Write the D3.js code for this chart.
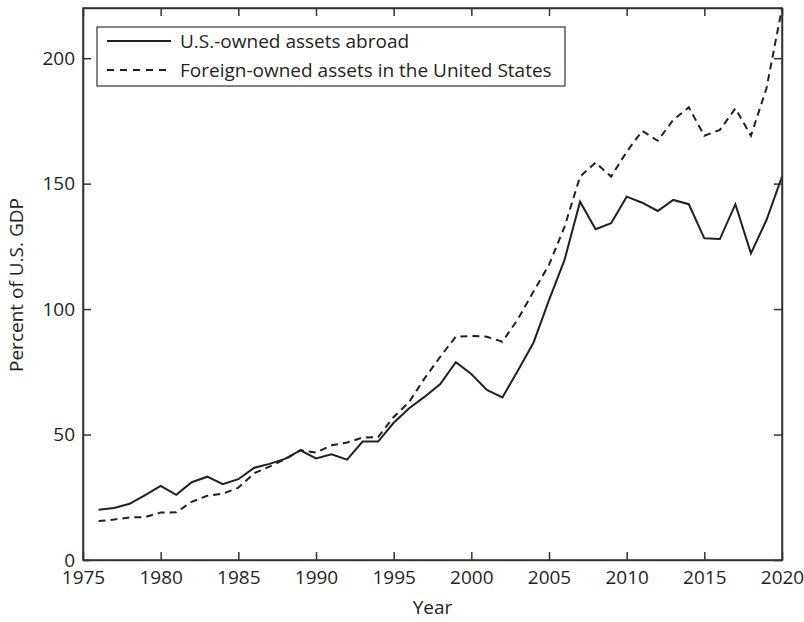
<!DOCTYPE html>
<html><head><meta charset="utf-8">
<script src="https://cdn.jsdelivr.net/npm/d3@7"></script>
<style>
body{margin:0;background:#fff;}
text{font-family:"Open Sans",sans-serif;fill:#231f20;}
</style></head>
<body><svg id="c" width="804" height="622"></svg>
<script>
const years = d3.range(1976, 2021);
const usOwnedAbroad = [20.0,20.7,22.4,25.9,29.5,26.0,31.0,33.2,30.2,32.2,36.7,38.3,40.3,43.7,40.5,42.1,40.0,47.2,47.2,54.7,60.5,65.1,70.1,78.8,74.1,67.8,64.8,75.5,86.6,103.6,119.6,142.8,131.8,134.2,144.8,142.4,139.1,143.5,141.8,128.2,127.9,141.8,122.2,135.5,152.8];
const foreignOwnedInUS = [15.5,16.1,17.0,17.1,18.9,19.0,23.2,25.6,26.4,28.8,34.5,37.2,40.1,43.8,42.8,45.7,46.8,48.8,49.0,57.0,63.0,72.5,81.0,89.0,89.3,89.0,87.0,96.0,107.0,117.6,132.8,152.8,158.4,152.8,162.7,171.0,167.1,175.4,180.4,169.1,171.4,180.0,169.1,188.0,220.0];
const xTicks = [1975,1980,1985,1990,1995,2000,2005,2010,2015,2020];
const yTicks = [0,50,100,150,200];
const seriesNames = ["U.S.-owned assets abroad","Foreign-owned assets in the United States"];

const svg = d3.select("#c");
const L=83, R=782, T=8, B=560;
const x = d3.scaleLinear().domain([1975,2020]).range([L,R]);
const y = d3.scaleLinear().domain([0,220]).range([B,T]);
const axisColor="#333";

svg.append("defs").append("clipPath").attr("id","clip")
  .append("rect").attr("x",L).attr("y",T).attr("width",R-L).attr("height",B-T);

const line = d3.line().x((d,i)=>x(years[i])).y(d=>y(d));
const g = svg.append("g").attr("clip-path","url(#clip)");
g.append("path").datum(usOwnedAbroad).attr("d",line).attr("fill","none")
  .attr("stroke","#231f20").attr("stroke-width",2).attr("stroke-linejoin","miter");
g.append("path").datum(foreignOwnedInUS).attr("d",line).attr("fill","none")
  .attr("stroke","#231f20").attr("stroke-width",2).attr("stroke-dasharray","7,5");

// axes
const fs = "19px";
const bx = svg.append("g").attr("transform",`translate(0,${B})`)
  .call(d3.axisBottom(x).tickValues(xTicks).tickFormat(d3.format("d")).tickSizeInner(-8).tickSizeOuter(0).tickPadding(11));
const tx = svg.append("g").attr("transform",`translate(0,${T})`)
  .call(d3.axisTop(x).tickValues(xTicks).tickFormat("").tickSizeInner(-8).tickSizeOuter(0));
const ly = svg.append("g").attr("transform",`translate(${L},0)`)
  .call(d3.axisLeft(y).tickValues(yTicks).tickSizeInner(-8).tickSizeOuter(0).tickPadding(8));
const ry = svg.append("g").attr("transform",`translate(${R},0)`)
  .call(d3.axisRight(y).tickValues(yTicks).tickFormat("").tickSizeInner(-8).tickSizeOuter(0));
[bx,tx,ly,ry].forEach(a=>{
  a.selectAll("path,line").attr("stroke",axisColor).attr("stroke-width",1.5);
  a.selectAll("text").attr("font-size",fs).attr("font-family","Open Sans").attr("fill","#231f20");
});
// frame box
svg.append("rect").attr("x",L).attr("y",T).attr("width",R-L).attr("height",B-T)
  .attr("fill","none").attr("stroke",axisColor).attr("stroke-width",1.5);

svg.append("text").attr("x",(L+R)/2).attr("y",614).attr("text-anchor","middle")
  .attr("font-size",fs).text("Year");
svg.append("text").attr("transform","translate(23,285) rotate(-90)").attr("text-anchor","middle")
  .attr("font-size",fs).text("Percent of U.S. GDP");

// legend
const lg = svg.append("g");
lg.append("rect").attr("x",97).attr("y",27).attr("width",468).attr("height",59)
  .attr("fill","#fff").attr("stroke",axisColor).attr("stroke-width",1.2);
const rowsY=[41,70];
seriesNames.forEach((n,i)=>{
  lg.append("line").attr("x1",107).attr("x2",171).attr("y1",rowsY[i]).attr("y2",rowsY[i])
    .attr("stroke","#231f20").attr("stroke-width",2).attr("stroke-dasharray",i?"7,6":null);
  lg.append("text").attr("x",180).attr("y",rowsY[i]+7).attr("font-size",fs).text(n);
});
</script></body></html>
